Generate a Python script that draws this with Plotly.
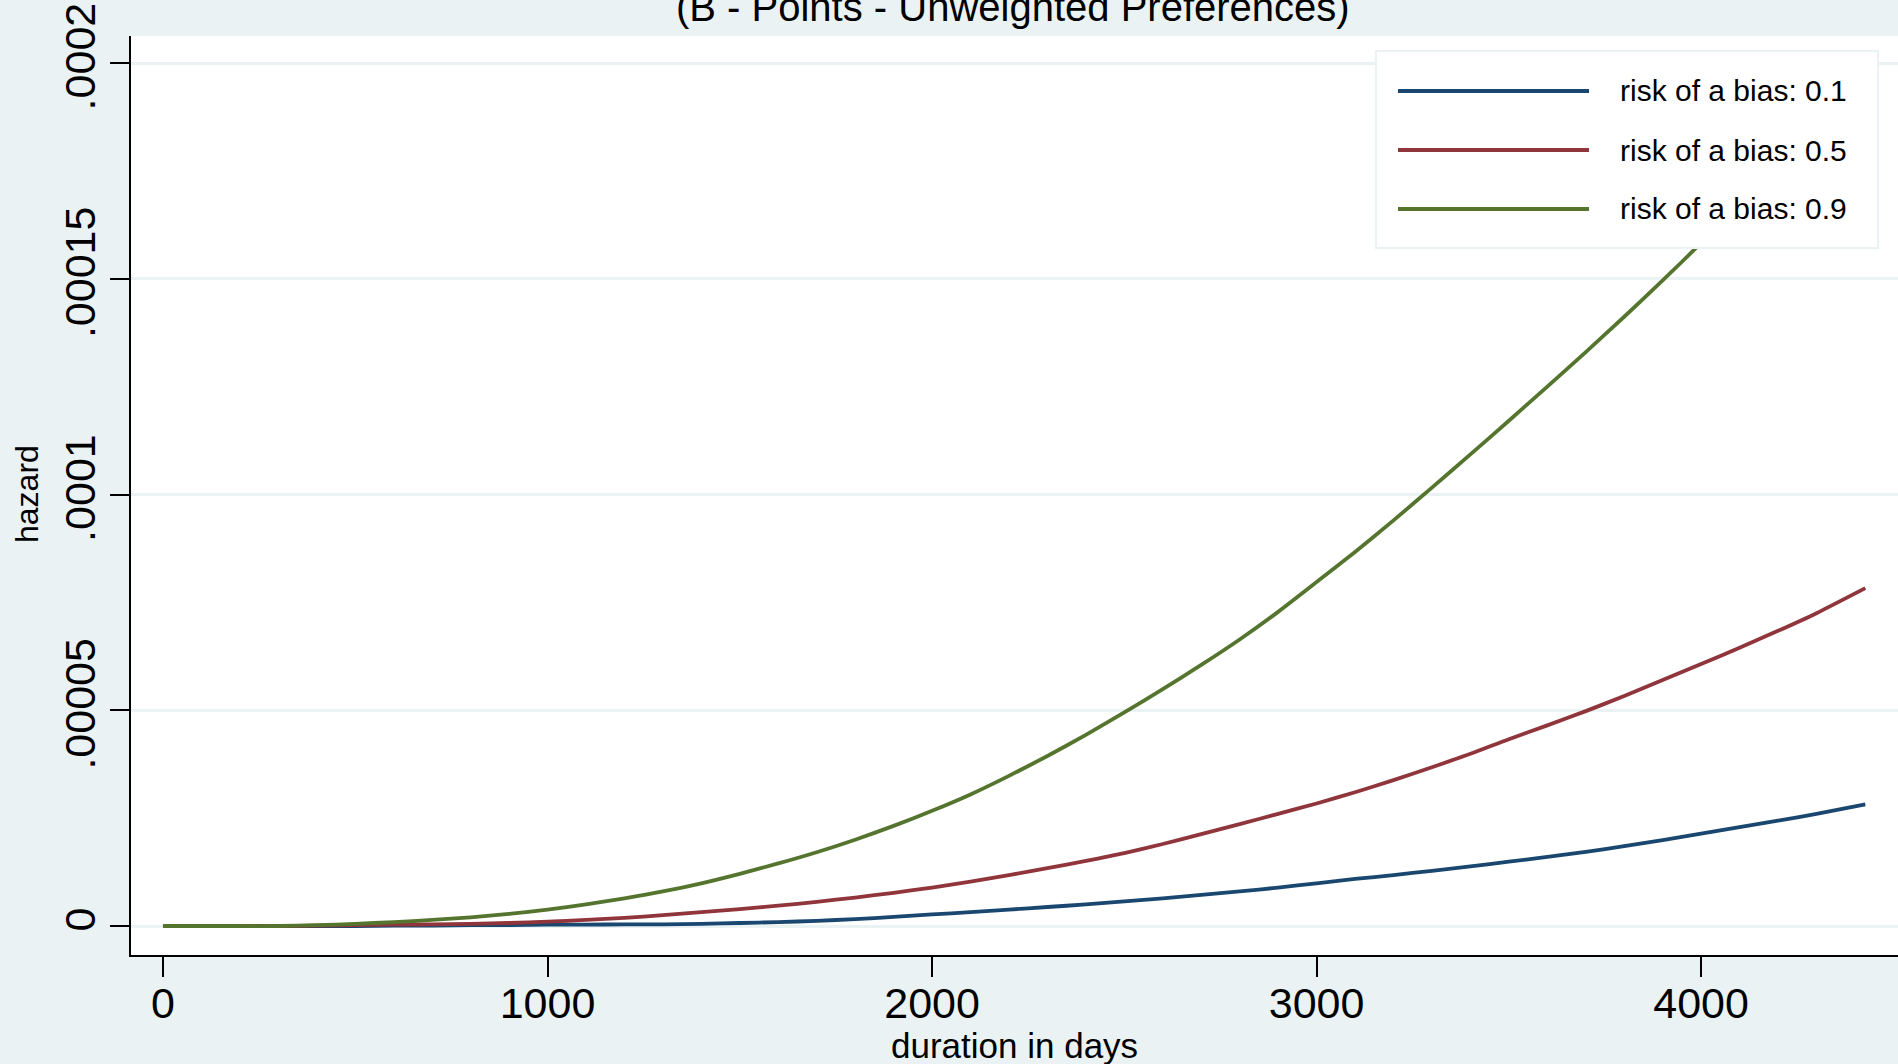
import plotly.graph_objects as go

# ---------------- data ----------------
days = [0, 100, 200, 300, 400, 500, 600, 700, 800, 900,
        1000, 1100, 1200, 1300, 1400, 1500, 1600, 1700, 1800, 1900,
        2000, 2100, 2200, 2300, 2400, 2500, 2600, 2700, 2800, 2900,
        3000, 3100, 3200, 3300, 3400, 3500, 3600, 3700, 3800, 3900,
        4000, 4100, 4200, 4300, 4427]

hazard_bias_01 = [0, 0, 0, 0, 0, 0, 1e-7, 1e-7, 2e-7, 2e-7,
                  3e-7, 3e-7, 4e-7, 4e-7, 5e-7, 7e-7, 9e-7, 1.2e-6, 1.6e-6, 2.1e-6,
                  2.7e-6, 3.2e-6, 3.8e-6, 4.4e-6, 5.0e-6, 5.7e-6, 6.4e-6, 7.2e-6, 8.0e-6, 8.9e-6,
                  9.9e-6, 1.09e-5, 1.18e-5, 1.28e-5, 1.38e-5, 1.49e-5, 1.60e-5, 1.72e-5, 1.85e-5, 1.99e-5,
                  2.14e-5, 2.29e-5, 2.44e-5, 2.60e-5, 2.82e-5]

hazard_bias_05 = [0, 0, 0, 0, 1e-7, 2e-7, 3e-7, 4e-7, 5e-7, 7e-7,
                  1.0e-6, 1.4e-6, 1.9e-6, 2.5e-6, 3.2e-6, 3.9e-6, 4.7e-6, 5.6e-6, 6.6e-6, 7.7e-6,
                  8.9e-6, 1.03e-5, 1.18e-5, 1.34e-5, 1.51e-5, 1.69e-5, 1.90e-5, 2.13e-5, 2.36e-5, 2.60e-5,
                  2.84e-5, 3.10e-5, 3.38e-5, 3.68e-5, 3.99e-5, 4.33e-5, 4.65e-5, 4.98e-5, 5.33e-5, 5.70e-5,
                  6.07e-5, 6.45e-5, 6.84e-5, 7.25e-5, 7.83e-5]

hazard_bias_09 = [0, 0, 0, 0, 2e-7, 5e-7, 9e-7, 1.4e-6, 2.0e-6, 2.8e-6,
                  3.8e-6, 5.0e-6, 6.4e-6, 8.0e-6, 9.9e-6, 1.21e-5, 1.45e-5, 1.71e-5, 2.00e-5, 2.32e-5,
                  2.67e-5, 3.05e-5, 3.48e-5, 3.94e-5, 4.43e-5, 4.95e-5, 5.49e-5, 6.05e-5, 6.64e-5, 7.28e-5,
                  7.97e-5, 8.67e-5, 9.40e-5, 1.016e-4, 1.093e-4, 1.171e-4, 1.250e-4, 1.330e-4, 1.412e-4, 1.496e-4,
                  1.583e-4, 1.673e-4, 1.766e-4, 1.861e-4, 1.985e-4]

series_names = ["risk of a bias: 0.1", "risk of a bias: 0.5", "risk of a bias: 0.9"]
series_values = [hazard_bias_01, hazard_bias_05, hazard_bias_09]

x_tick_vals = [0, 1000, 2000, 3000, 4000]
y_tick_vals = [0, 0.00005, 0.0001, 0.00015, 0.0002]
y_tick_text = ["0", ".00005", ".0001", ".00015", ".0002"]

title_text = "(B - Points - Unweighted Preferences)"
x_title = "duration in days"
y_title = "hazard"

# ---------------- styling ----------------
colors = ["#1a476f", "#90353b", "#55752f"]
BG = "#EAF2F3"
FONT = "Liberation Sans, Arial, sans-serif"
W, H = 1898, 1064
ML, MR, MT, MB = 131, 0, 36, 109
PW, PH = W - ML - MR, H - MT - MB


def px_x(p):
    return (p - ML) / PW


def px_y(p):
    return (H - MB - p) / PH


fig = go.Figure()
for name, vals, col in zip(series_names, series_values, colors):
    fig.add_trace(go.Scatter(x=days, y=vals, mode="lines", name=name,
                             line=dict(color=col, width=3.8, shape="spline", smoothing=0.6),
                             showlegend=False))

# custom legend box (Stata style, long line samples)
shapes = [dict(type="rect", xref="paper", yref="paper",
               x0=px_x(1376), x1=px_x(1878), y0=px_y(248), y1=px_y(51),
               fillcolor="white", line=dict(color=BG, width=2), layer="above")]
annotations = []
row_y = [91, 150, 209]
for name, col, ry in zip(series_names, colors, row_y):
    shapes.append(dict(type="line", xref="paper", yref="paper",
                       x0=px_x(1398), x1=px_x(1589), y0=px_y(ry), y1=px_y(ry),
                       line=dict(color=col, width=4), layer="above"))
    annotations.append(dict(xref="paper", yref="paper", x=px_x(1618), y=px_y(ry),
                            xanchor="left", yanchor="middle", showarrow=False,
                            text=name, font=dict(family=FONT, size=30, color="black")))

# title (clipped at top like the reference)
annotations.append(dict(xref="paper", yref="paper", x=px_x(1013), y=px_y(31),
                        xanchor="center", yanchor="bottom", showarrow=False,
                        text=title_text, font=dict(family=FONT, size=40, color="black")))
# axis titles
annotations.append(dict(xref="paper", yref="paper", x=px_x(1015), y=px_y(1045),
                        xanchor="center", yanchor="middle", showarrow=False,
                        text=x_title, font=dict(family=FONT, size=35, color="black")))
annotations.append(dict(xref="paper", yref="paper", x=px_x(27), y=px_y(494),
                        xanchor="center", yanchor="middle", showarrow=False, textangle=-90,
                        text=y_title, font=dict(family=FONT, size=32, color="black")))

fig.update_layout(
    width=W, height=H,
    margin=dict(l=ML, r=MR, t=MT, b=MB, pad=0),
    paper_bgcolor=BG, plot_bgcolor="white",
    font=dict(family=FONT, color="black"),
    shapes=shapes, annotations=annotations,
    showlegend=False,
)
fig.update_xaxes(range=[-83.2, 4512], showline=True, linecolor="black", linewidth=2,
                 ticks="outside", ticklen=20, tickwidth=2, tickcolor="black",
                 tickvals=x_tick_vals, tickfont=dict(family=FONT, size=43, color="black"),
                 ticklabelstandoff=-11,
                 showgrid=False, zeroline=False)
fig.update_yaxes(range=[-6.72e-6, 2.0626e-4], showline=True, linecolor="black", linewidth=2,
                 ticks="outside", ticklen=19, tickwidth=2, tickcolor="black",
                 tickvals=y_tick_vals, ticktext=y_tick_text, tickangle=-90,
                 tickfont=dict(family=FONT, size=43, color="black"),
                 ticklabelstandoff=-2,
                 showgrid=True, gridcolor=BG, gridwidth=3, zeroline=False)

fig.write_html("out.html")
